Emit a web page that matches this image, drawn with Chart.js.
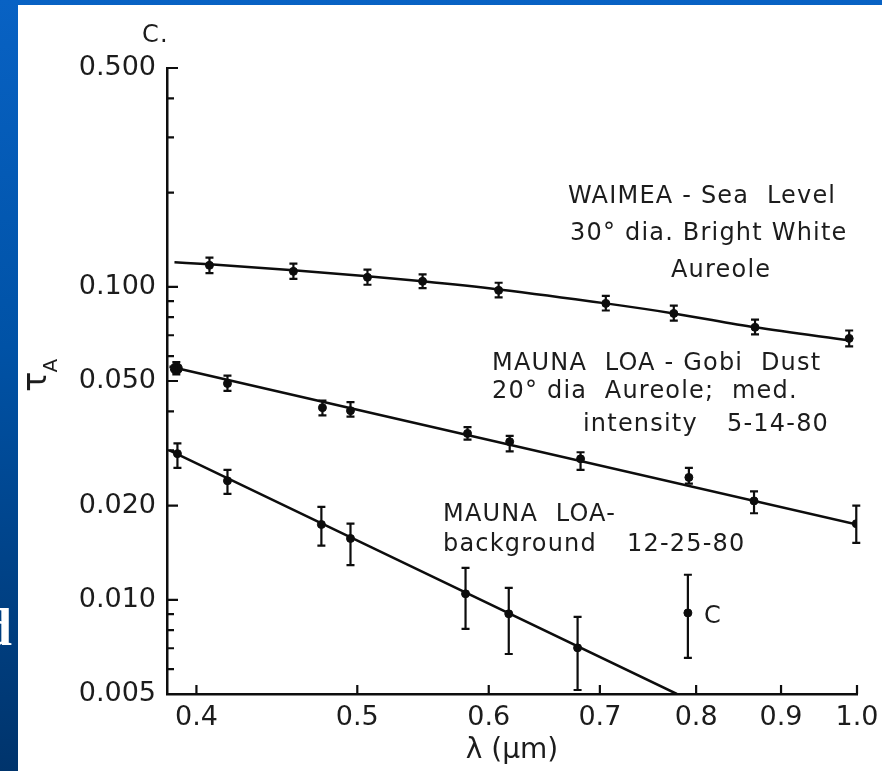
<!DOCTYPE html>
<html>
<head>
<meta charset="utf-8">
<script src="https://cdn.jsdelivr.net/npm/chart.js@4.4.0/dist/chart.umd.min.js"></script>
<style>
html,body{margin:0;padding:0;width:882px;height:771px;overflow:hidden;}
body{position:relative;background:linear-gradient(180deg,#0862c4 0%,#0052a6 45%,#00346c 100%);}
#panel{position:absolute;left:18px;top:5px;width:864px;height:766px;background:#ffffff;}
#edge{position:absolute;left:-17px;top:602px;font:bold 52px "Liberation Serif",serif;line-height:1;color:#ffffff;}
#c{position:absolute;left:0;top:0;}
</style>
</head>
<body>
<div id="panel"></div>
<div id="edge">d</div>
<canvas id="c" width="882" height="771"></canvas>
<script>
// ---------- axis ticks ----------
const xTickValues = [0.4, 0.5, 0.6, 0.7, 0.8, 0.9, 1.0];
const xTickLabels = ['0.4', '0.5', '0.6', '0.7', '0.8', '0.9', '1.0'];
const yTickValues = [0.005, 0.006, 0.007, 0.008, 0.009, 0.01, 0.02, 0.03, 0.04, 0.05,
                     0.06, 0.07, 0.08, 0.09, 0.1, 0.2, 0.3, 0.4, 0.5];
const yLabelValues = [0.005, 0.01, 0.02, 0.05, 0.1, 0.5];
const yLabelTexts = ['0.005', '0.010', '0.020', '0.050', '0.100', '0.500'];

// ---------- WAIMEA - Sea Level ----------
const waimeaX  = [0.4073, 0.4576, 0.5071, 0.5474, 0.6083, 0.7058, 0.7756, 0.8681, 0.9892];
const waimeaY  = [0.1171, 0.1120, 0.1072, 0.1041, 0.0974, 0.0885, 0.0822, 0.0742, 0.0684];
const waimeaHi = [0.1240, 0.1185, 0.1135, 0.1095, 0.1030, 0.0935, 0.0870, 0.0785, 0.0725];
const waimeaLo = [0.1105, 0.1060, 0.1015, 0.0990, 0.0925, 0.0840, 0.0780, 0.0705, 0.0645];
const waimeaFitX = [0.3880, 0.4073, 0.4576, 0.5071, 0.5474, 0.6083, 0.7058, 0.7756, 0.8681, 0.9906];
const waimeaFitY = [0.1197, 0.1180, 0.1129, 0.1080, 0.1041, 0.0981, 0.0885, 0.0822, 0.0742, 0.0674];

// ---------- MAUNA LOA - Gobi Dust ----------
const gobiX  = [0.3890, 0.4176, 0.4764, 0.4953, 0.5826, 0.6177, 0.6815, 0.7920, 0.8669, 0.9990];
const gobiY  = [0.0548, 0.0491, 0.0411, 0.0402, 0.0340, 0.0320, 0.0282, 0.0246, 0.0207, 0.0175];
const gobiHi = [0.0575, 0.0520, 0.0433, 0.0428, 0.0356, 0.0334, 0.0296, 0.0264, 0.0222, 0.0200];
const gobiLo = [0.0525, 0.0465, 0.0388, 0.0385, 0.0325, 0.0298, 0.0260, 0.0235, 0.0189, 0.0152];
const gobiFitX = [0.3853, 1.0];
const gobiFitY = [0.0556, 0.0174];

// ---------- MAUNA LOA - background ----------
const bgX  = [0.3896, 0.4176, 0.4757, 0.4953, 0.5810, 0.6169, 0.6787];
const bgY  = [0.0293, 0.0240, 0.0174, 0.0157, 0.01045, 0.00902, 0.00702];
const bgHi = [0.0316, 0.0260, 0.0198, 0.0175, 0.01265, 0.01092, 0.00882];
const bgLo = [0.0264, 0.0218, 0.0149, 0.0129, 0.00807, 0.00671, 0.00515];
const bgFitX = [0.3853, 0.7789];
const bgFitY = [0.0300, 0.0050];

// ---------- point C ----------
const cX  = [0.7909];
const cY  = [0.00908];
const cHi = [0.01202];
const cLo = [0.00652];

// ---------- text ----------
const notes = [
  {t: 'WAIMEA - Sea  Level', x: 568, y: 203},
  {t: '30° dia. Bright White', x: 570, y: 240},
  {t: 'Aureole', x: 671, y: 277},
  {t: 'MAUNA  LOA - Gobi  Dust', x: 492, y: 370},
  {t: '20° dia  Aureole;  med.', x: 492, y: 398},
  {t: 'intensity', x: 583, y: 431},
  {t: '5-14-80', x: 727, y: 431},
  {t: 'MAUNA  LOA-', x: 443, y: 521},
  {t: 'background', x: 443, y: 551},
  {t: '12-25-80', x: 627, y: 551},
  {t: 'C', x: 704, y: 623},
  {t: 'C.', x: 142, y: 42}
];

const INK = '#0d0d0d';
const TXT = '#1c1c1c';
const FONT = '"DejaVu Sans", Verdana, sans-serif';

function zip(xs, ys) { return xs.map((x, i) => ({x: x, y: ys[i]})); }
function findIdx(arr, v) { return arr.findIndex(a => Math.abs(a - v) / a < 1e-6); }

const pointsDs = (label, xs, ys, lo, hi) => ({
  label: label, type: 'scatter', data: zip(xs, ys), showLine: false,
  errLo: lo, errHi: hi,
  pointRadius: 4, pointHoverRadius: 4, pointBackgroundColor: INK, pointBorderColor: INK, pointBorderWidth: 1
});
const fitDs = (label, xs, ys) => ({
  label: label, type: 'line', data: zip(xs, ys), showLine: true,
  borderColor: INK, borderWidth: 2.5, pointRadius: 0, fill: false, tension: 0,
  cubicInterpolationMode: 'monotone'
});

const errorBars = {
  id: 'errorBars',
  afterDatasetsDraw(chart) {
    const ctx = chart.ctx, xs = chart.scales.x, ys = chart.scales.y;
    ctx.save();
    ctx.strokeStyle = INK; ctx.lineWidth = 2.2;
    chart.data.datasets.forEach(ds => {
      if (!ds.errLo) return;
      ds.data.forEach((p, i) => {
        const px = xs.getPixelForValue(p.x);
        const yH = ys.getPixelForValue(ds.errHi[i]);
        const yL = ys.getPixelForValue(ds.errLo[i]);
        ctx.beginPath();
        ctx.moveTo(px, yH); ctx.lineTo(px, yL);
        ctx.moveTo(px - 4, yH); ctx.lineTo(px + 4, yH);
        ctx.moveTo(px - 4, yL); ctx.lineTo(px + 4, yL);
        ctx.stroke();
      });
    });
    ctx.restore();
  }
};

const innerTicks = {
  id: 'innerTicks',
  afterDraw(chart) {
    const ctx = chart.ctx, xs = chart.scales.x, ys = chart.scales.y, a = chart.chartArea;
    ctx.save();
    ctx.strokeStyle = INK; ctx.lineWidth = 2.2;
    ctx.beginPath();
    yTickValues.forEach(v => {
      const py = ys.getPixelForValue(v);
      const len = findIdx(yLabelValues, v) >= 0 ? 11 : 7;
      ctx.moveTo(a.left, py); ctx.lineTo(a.left + len, py);
    });
    xTickValues.forEach(v => {
      const px = xs.getPixelForValue(v);
      ctx.moveTo(px, a.bottom); ctx.lineTo(px, a.bottom - 9);
    });
    ctx.stroke();
    // annotations
    ctx.fillStyle = TXT;
    ctx.font = '24px ' + FONT;
    ctx.textBaseline = 'alphabetic';
    ctx.textAlign = 'left';
    try { ctx.letterSpacing = '1.2px'; } catch (e) {}
    notes.forEach(n => { ctx.fillText(n.t, n.x, n.y); });
    try { ctx.letterSpacing = '0px'; } catch (e) {}
    // y-axis title tau_A (rotated)
    ctx.translate(46, 392);
    ctx.rotate(-Math.PI / 2);
    ctx.font = '34px ' + FONT;
    ctx.fillText('τ', 0, 0);
    const w = ctx.measureText('τ').width;
    ctx.font = '20px ' + FONT;
    ctx.fillText('A', w - 1, 11);
    ctx.restore();
  }
};

new Chart(document.getElementById('c'), {
  type: 'scatter',
  data: {
    datasets: [
      fitDs('WAIMEA fit', waimeaFitX, waimeaFitY),
      pointsDs('WAIMEA - Sea Level', waimeaX, waimeaY, waimeaLo, waimeaHi),
      fitDs('Gobi Dust fit', gobiFitX, gobiFitY),
      Object.assign(pointsDs('MAUNA LOA - Gobi Dust', gobiX, gobiY, gobiLo, gobiHi),
        {pointRadius: ctx => ctx.dataIndex === 0 ? 6 : 4}),
      fitDs('background fit', bgFitX, bgFitY),
      pointsDs('MAUNA LOA - background', bgX, bgY, bgLo, bgHi),
      pointsDs('C', cX, cY, cLo, cHi)
    ]
  },
  options: {
    responsive: false,
    animation: false,
    devicePixelRatio: 1,
    events: [],
    layout: {padding: {top: 68, right: 25, bottom: 0, left: 0}},
    plugins: {legend: {display: false}, tooltip: {enabled: false}},
    scales: {
      x: {
        type: 'logarithmic', position: 'bottom', min: 0.384, max: 1.0,
        afterFit: s => { s.height = 77; s.paddingLeft = 0; s.paddingRight = 0; },
        afterBuildTicks: s => { s.ticks = xTickValues.map(v => ({value: v})); },
        grid: {display: false, drawTicks: false},
        border: {display: true, color: INK, width: 2.5},
        ticks: {
          autoSkip: false, maxRotation: 0, minRotation: 0, padding: 8,
          color: TXT, font: {family: FONT, size: 27},
          callback: (v) => { const i = findIdx(xTickValues, v); return i >= 0 ? xTickLabels[i] : ''; }
        },
        title: {display: true, text: 'λ (μm)', color: TXT, font: {family: FONT, size: 28},
                padding: {top: 0, bottom: 3}}
      },
      y: {
        type: 'logarithmic', position: 'left', min: 0.005, max: 0.5,
        afterFit: s => { s.width = 167; s.paddingTop = 0; s.paddingBottom = 0; },
        afterBuildTicks: s => { s.ticks = yTickValues.map(v => ({value: v})); },
        grid: {display: false, drawTicks: false},
        border: {display: true, color: INK, width: 2.5},
        ticks: {
          autoSkip: false, padding: 11,
          color: TXT, font: {family: FONT, size: 27},
          callback: (v) => { const i = findIdx(yLabelValues, v); return i >= 0 ? yLabelTexts[i] : ''; }
        }
      }
    }
  },
  plugins: [errorBars, innerTicks]
});
</script>
</body>
</html>
